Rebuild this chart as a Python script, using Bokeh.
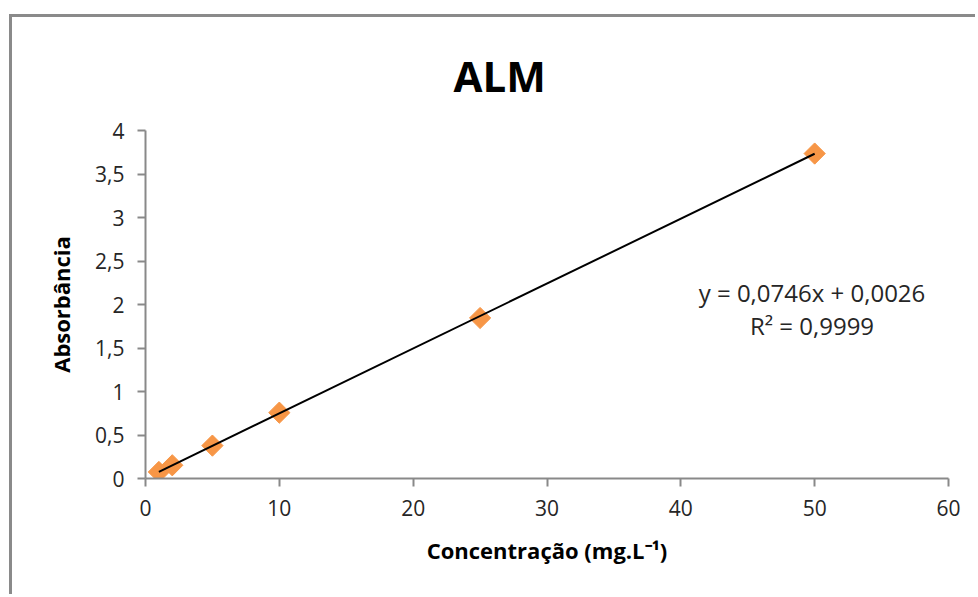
from bokeh.plotting import figure
from bokeh.models import Range1d, FixedTicker, Label
from bokeh.embed import file_html
from bokeh.resources import INLINE

# data
conc = [1, 2, 5, 10, 25, 50]
absorb = [0.075, 0.152, 0.378, 0.757, 1.845, 3.735]
slope = 0.0746
intercept = 0.0026
trend_x = [1, 50]
trend_y = [slope * v + intercept for v in trend_x]
x_ticks = [0, 10, 20, 30, 40, 50, 60]
y_ticks = [0, 0.5, 1, 1.5, 2, 2.5, 3, 3.5, 4]
y_tick_labels = ["0", "0,5", "1", "1,5", "2", "2,5", "3", "3,5", "4"]
title_text = "ALM"
eq_text = "y = 0,0746x + 0,0026"
r2_text = "R² = 0,9999"

FONT = "Open Sans"
AXIS_GRAY = "#898989"
TEXT = "#262626"

p = figure(width=966, height=580, x_range=Range1d(0, 60), y_range=Range1d(0, 4),
           output_backend="svg", toolbar_location=None,
           min_border_left=133, min_border_right=30, min_border_top=113, min_border_bottom=119)
p.margin = (14, 0, 0, 9)
p.styles = {"border-left": "3px solid #8a8a8a", "border-top": "3px solid #8a8a8a"}

p.outline_line_color = None
p.xgrid.visible = False
p.ygrid.visible = False

p.title.text = title_text
p.title.align = "left"
p.title.vertical_align = "bottom"
p.title.text_font = FONT
p.title.text_font_size = "42px"
p.title.text_font_style = "bold"
p.title.text_color = "#000000"
p.title.standoff = 54
p.title.offset = 308

for ax in (p.xaxis[0], p.yaxis[0]):
    ax.axis_line_color = AXIS_GRAY
    ax.axis_line_width = 2
    ax.major_tick_line_color = AXIS_GRAY
    ax.major_tick_line_width = 2
    ax.major_tick_out = 8
    ax.major_tick_in = 0
    ax.minor_tick_line_color = None
    ax.major_label_text_font = FONT
    ax.major_label_text_font_size = "21px"
    ax.major_label_text_color = TEXT
    ax.axis_label_text_font = FONT
    ax.axis_label_text_font_size = "22px"
    ax.axis_label_text_font_style = "bold"
    ax.axis_label_text_color = "#000000"

p.xaxis.ticker = FixedTicker(ticks=x_ticks)
p.yaxis.ticker = FixedTicker(ticks=y_ticks)
p.yaxis.major_label_overrides = {t: l for t, l in zip(y_ticks, y_tick_labels)}
p.xaxis.major_label_standoff = 13
p.yaxis.major_label_standoff = 13
p.xaxis.axis_label = "Concentração (mg.L⁻¹)"
p.yaxis.axis_label = "Absorbância"
p.xaxis.axis_label_standoff = 16
p.yaxis.axis_label_standoff = 16

p.scatter(conc, absorb, marker="square", angle=0.7854, size=15,
          fill_color="#F79646", line_color="#F79646")
p.line(trend_x, trend_y, line_color="#000000", line_width=2)

p.add_layout(Label(x=49.8, y=2.14, text=eq_text, text_align="center", text_baseline="middle",
                   text_font=FONT, text_font_size="24px", text_color=TEXT))
p.add_layout(Label(x=49.8, y=1.76, text=r2_text, text_align="center", text_baseline="middle",
                   text_font=FONT, text_font_size="24px", text_color=TEXT))

open("out.html", "w").write(file_html(p, INLINE))
